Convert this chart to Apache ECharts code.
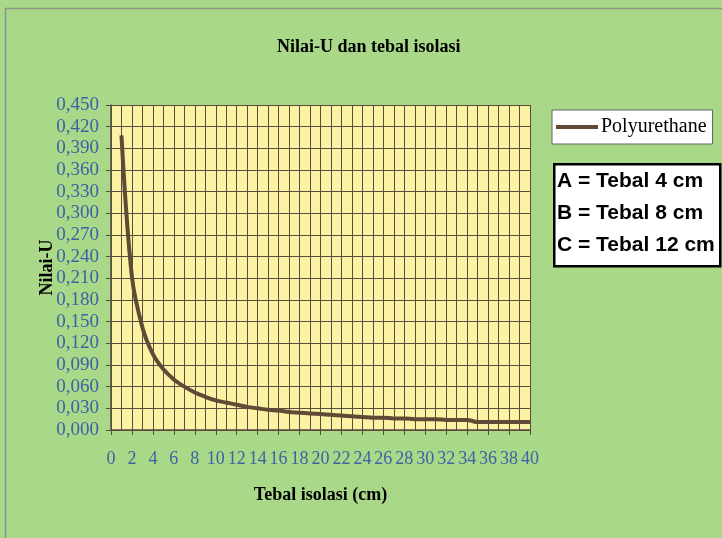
<!DOCTYPE html>
<html>
<head>
<meta charset="utf-8">
<script src="https://cdn.jsdelivr.net/npm/echarts@6/dist/echarts.min.js"></script>
<style>
html,body{margin:0;padding:0;background:#a8d888;}
#chart{width:722px;height:538px;}
</style>
</head>
<body>
<div id="chart"></div>
<script>
// ---- data ----
const thickness = [1,2,3,4,5,6,7,8,9,10,11,12,13,14,15,16,17,18,19,20,21,22,23,24,25,26,27,28,29,30,31,32,33,34,35,36,37,38,39,40];
const uValues = [0.408,0.212,0.142,0.105,0.084,0.070,0.060,0.052,0.046,0.041,0.038,0.035,0.032,0.030,0.028,0.027,0.025,0.024,0.023,0.022,0.021,0.020,0.019,0.018,0.017,0.017,0.016,0.016,0.015,0.015,0.015,0.014,0.014,0.014,0.011,0.011,0.011,0.011,0.011,0.011];
const seriesName = 'Polyurethane';
const titleText = 'Nilai-U dan tebal isolasi';
const xAxisTitle = 'Tebal isolasi (cm)';
const yAxisTitle = 'Nilai-U';
const noteLines = ['A = Tebal 4 cm','B = Tebal 8 cm','C = Tebal 12 cm'];

const chart = echarts.init(document.getElementById('chart'));
const labelColor = '#3d62a6';
const gridColor = '#574e40';
const serif = '"Liberation Serif", "Times New Roman", serif';

const noteTexts = noteLines.map((t, i) => ({
  type: 'text', left: 557, top: 171 + i * 32,
  style: { text: t, font: 'bold 21px "Liberation Sans", Arial, sans-serif', fill: '#000' }
}));

chart.setOption({
  backgroundColor: '#a8d888',
  animation: false,
  title: {
    text: titleText, left: 272, top: 33,
    textStyle: { fontFamily: serif, fontWeight: 'bold', fontSize: 18, color: '#000' }
  },
  legend: {
    data: [seriesName], left: 552, top: 110,
    backgroundColor: '#ffffff', borderColor: '#666', borderWidth: 1,
    padding: [7, 6, 7, 4],
    icon: 'rect', itemWidth: 42, itemHeight: 4, itemGap: 4,
    textStyle: { fontFamily: serif, fontSize: 20, color: '#000', padding: [0,0,0,-2] }
  },
  grid: {
    left: 111, right: 192, top: 105, bottom: 108,
    show: true, backgroundColor: '#fcf2a4', borderWidth: 0
  },
  xAxis: {
    type: 'value', min: 0, max: 40, interval: 2,
    name: xAxisTitle, nameLocation: 'middle', nameGap: 56,
    nameTextStyle: { fontFamily: serif, fontWeight: 'bold', fontSize: 18, color: '#000' },
    axisLine: { lineStyle: { color: gridColor, width: 1.5 } },
    axisTick: { show: true, length: 5, lineStyle: { color: gridColor } },
    axisLabel: { margin: 20, fontFamily: serif, fontSize: 18, color: labelColor },
    splitLine: { show: true, lineStyle: { color: gridColor, width: 1 } },
    minorTick: { show: false, splitNumber: 2 },
    minorSplitLine: { show: true, lineStyle: { color: gridColor, width: 1 } }
  },
  yAxis: {
    type: 'value', min: 0, max: 0.45, interval: 0.03,
    name: yAxisTitle, nameLocation: 'middle', nameGap: 55, nameRotate: 90,
    nameMoveOverlap: false,
    nameTextStyle: { fontFamily: serif, fontWeight: 'bold', fontSize: 18, color: '#000' },
    axisLine: { show: true, lineStyle: { color: gridColor, width: 1.5 } },
    axisTick: { show: true, length: 5, lineStyle: { color: gridColor } },
    axisLabel: {
      margin: 12, fontFamily: serif, fontSize: 19, color: labelColor,
      formatter: v => v.toFixed(3).replace('.', ',')
    },
    splitLine: { show: true, lineStyle: { color: gridColor, width: 1.2 } }
  },
  series: [{
    name: seriesName, type: 'line',
    data: thickness.map((x, i) => [x, uValues[i]]),
    smooth: 0.35,
    showSymbol: false, symbol: 'none',
    lineStyle: { color: '#5e4a35', width: 4 },
    itemStyle: { color: '#5e4a35' }
  }],
  graphic: [
    { type: 'rect', left: 3, top: 6, shape: { width: 740, height: 560 },
      style: { fill: 'none', stroke: '#8c9388', lineWidth: 1.5 }, silent: true },
    { type: 'rect', left: 553, top: 163, shape: { width: 166, height: 102 },
      style: { fill: '#ffffff', stroke: '#000', lineWidth: 2.5 } }
  ].concat(noteTexts)
});
</script>
</body>
</html>
